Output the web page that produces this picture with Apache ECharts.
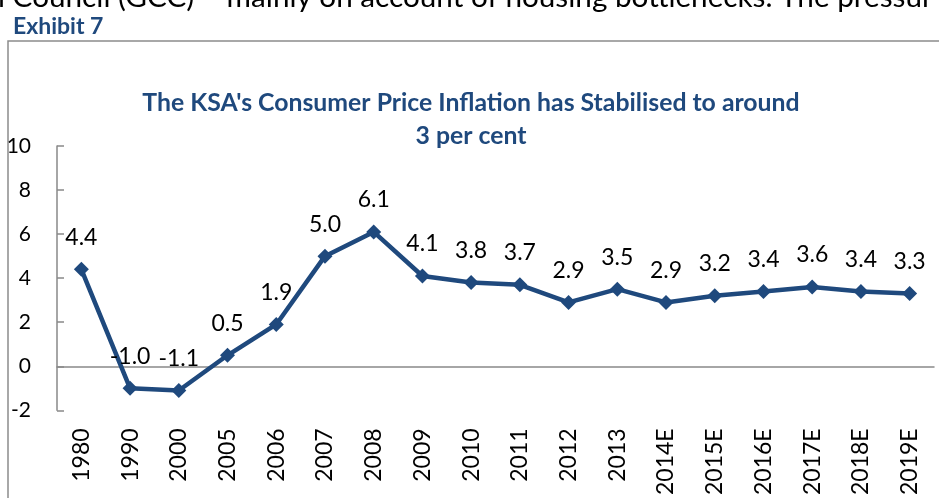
<!DOCTYPE html>
<html>
<head>
<meta charset="utf-8">
<script src="https://cdn.jsdelivr.net/npm/echarts@6/dist/echarts.min.js"></script>
<style>
html,body{margin:0;padding:0;background:#fff;}
#chart{width:939px;height:498px;}
</style>
</head>
<body>
<div id="chart"></div>
<script>
const categories = ['1980','1990','2000','2005','2006','2007','2008','2009','2010','2011','2012','2013','2014E','2015E','2016E','2017E','2018E','2019E'];
const cpiValues = [4.4, -1.0, -1.1, 0.5, 1.9, 5.0, 6.1, 4.1, 3.8, 3.7, 2.9, 3.5, 2.9, 3.2, 3.4, 3.6, 3.4, 3.3];
const yTicks = {min: -2, max: 10, interval: 2};
const titleText = "The KSA's Consumer Price Inflation has Stabilised to around\n3 per cent";
const exhibitText = 'Exhibit 7';
const bodyText = 'l Council (GCC) \u2013 mainly on account of housing bottlenecks. The pressur';

const blue = '#1F497D';
const axisGray = '#898989';
const chart = echarts.init(document.getElementById('chart'));
chart.setOption({
  animation: false,
  backgroundColor: '#fff',
  graphic: [
    {type:'rect', shape:{x:8, y:41, width:1000, height:600}, style:{fill:'none', stroke:'#8c8c8c', lineWidth:1.5}, silent:true},
    {type:'text', left:-2, top:-18, style:{text:bodyText, font:'29.7px Lato, sans-serif', fill:'#000'}},
    {type:'text', left:13, top:15, style:{text:exhibitText, font:'bold 23px Lato, sans-serif', fill:blue}}
  ],
  title: {
    text: titleText,
    left: 466, top: 82, textAlign: 'center',
    textStyle: {color: blue, fontFamily: 'Lato, sans-serif', fontWeight: 'bold', fontSize: 24.8, lineHeight: 33}
  },
  grid: {left: 57, right: 5, top: 146, bottom: 84, containLabel: false},
  xAxis: {
    type: 'category', data: categories, boundaryGap: true,
    axisLine: {lineStyle: {color: axisGray, width: 1.5}},
    axisTick: {inside: true, length: 7, lineStyle: {color: axisGray, width: 1.5}},
    axisLabel: {rotate: 90, margin: 18, color: '#000', fontFamily: 'Lato, sans-serif', fontSize: 23, interval: 0}
  },
  yAxis: {
    type: 'value', min: yTicks.min, max: yTicks.max, interval: yTicks.interval,
    splitLine: {show: false},
    axisLine: {show: true, lineStyle: {color: axisGray, width: 1.5}},
    axisTick: {show: true, inside: true, length: 7, lineStyle: {color: axisGray, width: 1.5}},
    axisLabel: {margin: 26, color: '#000', fontFamily: 'Lato, sans-serif', fontSize: 21}
  },
  series: [{
    type: 'line', data: cpiValues,
    symbol: 'diamond', symbolSize: 15,
    lineStyle: {color: blue, width: 4.5},
    itemStyle: {color: blue},
    label: {show: true, position: 'top', distance: 13, color: '#000', fontFamily: 'Lato, sans-serif', fontSize: 23,
      formatter: p => p.value.toFixed(1)}
  }]
});
</script>
</body>
</html>
